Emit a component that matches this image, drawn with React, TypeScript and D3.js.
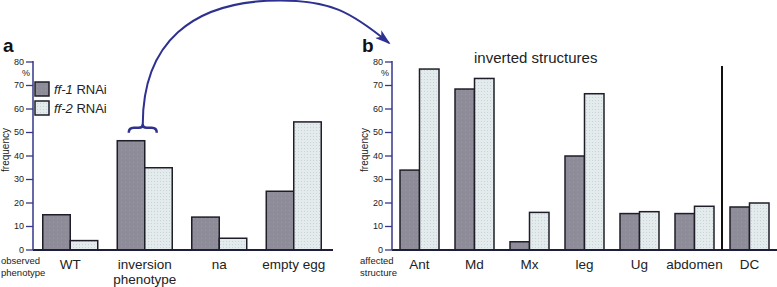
import React from "react";
import * as d3 from "d3";

// ---- data ----
const categoriesA = ["WT", "inversion\nphenotype", "na", "empty egg"];
const ff1A = [15, 46.5, 14, 25];
const ff2A = [4, 35, 5, 54.5];

const categoriesB = ["Ant", "Md", "Mx", "leg", "Ug", "abdomen", "DC"];
const ff1B = [34, 68.5, 3.5, 40, 15.5, 15.5, 18.3];
const ff2B = [77, 73, 16, 66.5, 16.3, 18.6, 20];

const yTicks = [0, 10, 20, 30, 40, 50, 60, 70, 80];
const seriesNames = ["ff-1", "ff-2"];

const W = 777;
const H = 287;
const FONT = "'Liberation Sans', Arial, Helvetica, sans-serif";
const NAVY = "#2e3190";
const AXIS = "#34378a";
const BASE = "#1d1d3c";
const C1 = "#8e8c99";
const C2 = "#e4ebed";
const STROKE = "#1e1e28";

const yScale = d3.scaleLinear().domain([0, 80]).range([250, 62]);

type PanelProps = {
  cats: string[];
  s1: number[];
  s2: number[];
  x0: number;
  x1: number;
  padInner: number;
  axisLabel: [string, string];
  letter: string;
};

function Panel({ cats, s1, s2, x0, x1, padInner, axisLabel, letter }: PanelProps) {
  const x = d3
    .scaleBand<string>()
    .domain(cats)
    .range([x0, x1])
    .paddingInner(padInner)
    .paddingOuter(padInner / 2);
  const bw = x.bandwidth();
  const sub = d3.scaleBand<string>().domain(seriesNames).range([0, bw]);
  const y = yScale;
  return (
    <g>
      {/* panel letter */}
      <text x={x0 - 30} y={52} fontSize={19} fontWeight="bold" fontFamily={FONT} fill="#111">
        {letter}
      </text>
      {/* bars */}
      {cats.map((c, i) => (
        <g key={c}>
          <rect
            x={(x(c) as number) + (sub("ff-1") as number)}
            y={y(s1[i])}
            width={sub.bandwidth()}
            height={y(0) - y(s1[i])}
            fill="url(#dots1)"
            stroke={STROKE}
            strokeWidth={1.5}
          />
          <rect
            x={(x(c) as number) + (sub("ff-2") as number)}
            y={y(s2[i])}
            width={sub.bandwidth()}
            height={y(0) - y(s2[i])}
            fill="url(#dots2)"
            stroke={STROKE}
            strokeWidth={1.5}
          />
        </g>
      ))}
      {/* baseline */}
      <line x1={x0} x2={x1 + 2} y1={y(0)} y2={y(0)} stroke={BASE} strokeWidth={2} />
      {/* y axis */}
      <line x1={x0} x2={x0} y1={y(80) - 1} y2={y(0)} stroke={AXIS} strokeWidth={1.5} />
      {yTicks.map((t) => (
        <g key={t}>
          <line x1={x0 - 7} x2={x0} y1={y(t)} y2={y(t)} stroke={AXIS} strokeWidth={1.3} />
          <text
            x={x0 - 9}
            y={y(t)}
            dy="0.33em"
            textAnchor="end"
            fontSize={9}
            fontFamily={FONT}
            fill="#222"
          >
            {t}
          </text>
        </g>
      ))}
      <text x={x0 - 3} y={y(80) + 14} textAnchor="end" fontSize={9} fontFamily={FONT} fill="#222">
        %
      </text>
      <text
        transform={`translate(${x0 - 24},${(y(0) + y(80)) / 2 - 6}) rotate(-90)`}
        textAnchor="middle"
        fontSize={10}
        fontFamily={FONT}
        fill="#222"
      >
        frequency
      </text>
      {/* category labels */}
      {cats.map((c) => (
        <text
          key={c}
          x={(x(c) as number) + bw / 2}
          y={268.5}
          textAnchor="middle"
          fontSize={13.5}
          fontFamily={FONT}
          fill="#222"
        >
          {c.split("\n").map((ln, k) => (
            <tspan key={k} x={(x(c) as number) + bw / 2} dy={k === 0 ? 0 : 15.5}>
              {ln}
            </tspan>
          ))}
        </text>
      ))}
      {/* axis corner label */}
      <text x={x0 - 32} y={264} fontSize={9.5} fontFamily={FONT} fill="#222">
        {axisLabel[0]}
      </text>
      <text x={x0 - 32} y={276} fontSize={9.5} fontFamily={FONT} fill="#222">
        {axisLabel[1]}
      </text>
    </g>
  );
}

export default function App() {
  const xA0 = 33;
  const xA1 = 331;
  const padA = 0.262;
  const xB0 = 392;
  const xB1 = 777;
  const padB = 0.291;

  const xA = d3
    .scaleBand<string>()
    .domain(categoriesA)
    .range([xA0, xA1])
    .paddingInner(padA)
    .paddingOuter(padA / 2);
  const xB = d3
    .scaleBand<string>()
    .domain(categoriesB)
    .range([xB0, xB1])
    .paddingInner(padB)
    .paddingOuter(padB / 2);

  // arrow anchor from inversion group
  const sx = (xA(categoriesA[1]) as number) + xA.bandwidth() / 2 - 2;
  const sy = yScale(ff1A[1]) - 16;
  const px = 280;
  const py = 0.5;
  const ex = xB0 - 3;
  const ey = yScale(80) - 19;
  const k = 0.65;
  const arc =
    `M${sx},${sy} C${sx},${sy - k * (sy - py)} ${px - k * (px - sx)},${py} ${px},${py} ` +
    `C${px + 50},${py} ${ex - 0.77 * 50},${ey - 0.63 * 50} ${ex},${ey}`;
  const brace =
    `M${sx - 14},${sy + 8} Q${sx - 14},${sy + 3} ${sx - 9},${sy + 3} L${sx - 4},${sy + 3} ` +
    `Q${sx},${sy + 3} ${sx},${sy} Q${sx},${sy + 3} ${sx + 4},${sy + 3} L${sx + 9},${sy + 3} ` +
    `Q${sx + 14},${sy + 3} ${sx + 14},${sy + 8}`;

  // separator between abdomen and DC
  const stepB = xB.step();
  const sepX = (xB("DC") as number) - (stepB - xB.bandwidth()) / 2;

  return (
    <svg
      width={W}
      height={H}
      style={{ position: "fixed", left: 0, top: 0, background: "#fff" }}
    >
      <defs>
        <pattern id="dots1" width="4" height="4" patternUnits="userSpaceOnUse">
          <rect width="4" height="4" fill={C1} />
          <rect x="1" y="2" width="1" height="1" fill="#9a98a4" />
        </pattern>
        <pattern id="dots2" width="3" height="3" patternUnits="userSpaceOnUse">
          <rect width="3" height="3" fill={C2} />
          <rect x="1" y="1" width="1" height="1" fill="#c9d3d7" />
        </pattern>
        <marker
          id="arrowHead"
          viewBox="0 0 16 10"
          refX={14}
          refY={5}
          markerWidth={16}
          markerHeight={10}
          markerUnits="userSpaceOnUse"
          orient="auto"
        >
          <path d="M0,0 L16,5 L0,10 L4,5 Z" fill={NAVY} />
        </marker>
      </defs>

      <Panel
        cats={categoriesA}
        s1={ff1A}
        s2={ff2A}
        x0={xA0}
        x1={xA1}
        padInner={padA}
        axisLabel={["observed", "phenotype"]}
        letter="a"
      />
      <Panel
        cats={categoriesB}
        s1={ff1B}
        s2={ff2B}
        x0={xB0}
        x1={xB1}
        padInner={padB}
        axisLabel={["affected", "structure"]}
        letter="b"
      />

      {/* separator */}
      <line x1={sepX} x2={sepX} y1={66} y2={yScale(0)} stroke="#111" strokeWidth={2} />

      {/* title b */}
      <text x={474} y={63} fontSize={15} fontFamily={FONT} fill="#222">
        inverted structures
      </text>

      {/* legend */}
      {seriesNames.map((s, i) => (
        <g key={s}>
          <rect
            x={35}
            y={82 + i * 19}
            width={14}
            height={14}
            fill={i === 0 ? "url(#dots1)" : "url(#dots2)"}
            stroke={STROKE}
            strokeWidth={1.5}
          />
          <text x={54} y={93.5 + i * 19} fontSize={13} fontFamily={FONT} fill="#222">
            <tspan fontStyle="italic">{s}</tspan> RNAi
          </text>
        </g>
      ))}

      {/* arrow */}
      <path d={arc} fill="none" stroke={NAVY} strokeWidth={2} markerEnd="url(#arrowHead)" />
      <path d={brace} fill="none" stroke={NAVY} strokeWidth={2.5} strokeLinejoin="round" />
    </svg>
  );
}
